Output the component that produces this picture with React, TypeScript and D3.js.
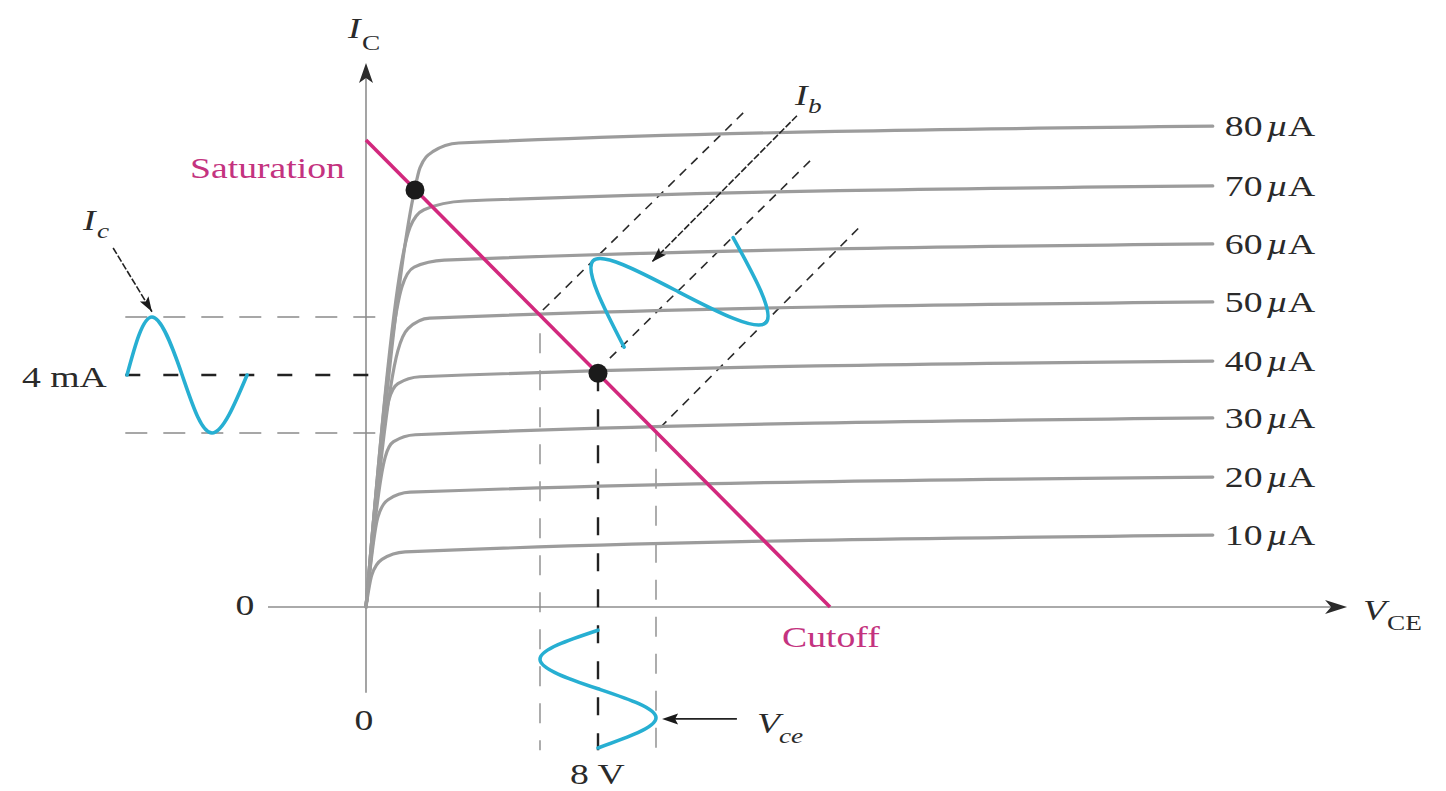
import React from "react";
import * as d3 from "d3";

const W = 1446;
const H = 791;

// Base-current levels (µA) of the characteristic curves
const ibLevels = [10, 20, 30, 40, 50, 60, 70, 80];

// Characteristic curves: [VCE (V), IC (mA)]
const curve10 = [[0, 0], [0.2, 0.55], [0.55, 0.82], [1.35, 0.95], [29.2, 1.24]];
const curve20 = [[0, 0], [0.41, 1.55], [0.76, 1.85], [1.52, 1.98], [29.2, 2.24]];
const curve30 = [[0, 0], [0.66, 2.58], [0.95, 2.85], [1.7, 2.97], [29.2, 3.26]];
const curve40 = [[0, 0], [0.79, 3.57], [1.1, 3.85], [1.86, 3.97], [29.2, 4.24]];
const curve50 = [[0, 0], [1.1, 4.42], [1.45, 4.8], [2.2, 4.98], [29.2, 5.26]];
const curve60 = [[0, 0], [1.24, 5.52], [1.66, 5.86], [2.7, 5.98], [29.2, 6.26]];
const curve70 = [[0, 0], [1.52, 6.55], [2.0, 6.85], [3.4, 7.0], [29.2, 7.26]];
const curve80 = [[0, 0], [1.66, 7.15], [1.86, 7.57], [2.3, 7.85], [3.2, 8.0], [29.2, 8.29]];
const curves = [curve10, curve20, curve30, curve40, curve50, curve60, curve70, curve80];

// Load line and operating points
const loadLine = [[0, 8.05], [16, 0]];
const qPoint = [8, 4.03];
const satPoint = [1.69, 7.19];

// Signal waveforms (key points)
const icWave = [[-8.24, 4], [-7.38, 5], [-6.34, 4], [-5.31, 3], [-4.1, 4]];
const vceWave = [[8, -0.4], [6, -0.9], [8, -1.41], [10, -1.91], [8, -2.43]];
const ibWave = [[8.9, 4.48], [7.83, 5.97], [10.79, 5.43], [13.79, 4.9], [12.66, 6.37]];

// Projection lines
const icLevels = [5, 4, 3]; // mA
const icLevelEnds = [0.5, 0.62, 0.5]; // V where the dashed lines stop
const vceLevels = [6, 8, 10]; // V
const vceLevelTops = [4.72, 4.03, 3.02]; // mA where the dashed lines start
const vceBottom = -2.47;
const icLeft = -8.3;
const ibLines = [
  [[6.1, 5.12], [13.17, 8.6]],
  [[8.41, 4.29], [15.41, 7.74]],
  [[10.14, 3.09], [17.1, 6.59]],
];

// Annotation arrows [tail, head]
const ibArrow = [[14.86, 8.47], [9.86, 5.95]];
const icArrow = [[-8.72, 6.19], [-7.38, 5.09]];
const vceArrow = [[12.79, -1.93], [10.21, -1.93]];

// Axis extents
const xAxisRange = [-3.38, 33.83];
const yAxisRange = [-1.48, 9.38];

const x = d3.scaleLinear().domain([0, 16]).range([366, 830]);
const y = d3.scaleLinear().domain([0, 8]).range([607, 143]);

const FONT = "'Liberation Serif', 'Times New Roman', serif";
const SX = 1.3;
const GRAY = "#9c9c9c";
const MAGENTA = "#d2287d";
const MAGENTA_TEXT = "#c4337f";
const CYAN = "#27afd2";

function arrowPath(x1: number, y1: number, x2: number, y2: number, len: number, half: number, notch: number) {
  const a = Math.atan2(y2 - y1, x2 - x1);
  const c = Math.cos(a);
  const s = Math.sin(a);
  const bx = x2 - len * c;
  const by = y2 - len * s;
  const p1 = [bx - half * s, by + half * c];
  const p2 = [bx + half * s, by - half * c];
  const n = [x2 - (len - notch) * c, y2 - (len - notch) * s];
  return `M${x2},${y2}L${p1[0]},${p1[1]}L${n[0]},${n[1]}L${p2[0]},${p2[1]}Z`;
}

function T(props: {
  x: number;
  y: number;
  size?: number;
  fill?: string;
  italic?: boolean;
  anchor?: string;
  children: React.ReactNode;
}) {
  const { x: tx, y: ty, size = 29, fill = "#2a2a2a", italic = false, anchor = "start", children } = props;
  return (
    <text
      transform={`translate(${tx},${ty}) scale(${SX},1)`}
      fontFamily={FONT}
      fontSize={size}
      fill={fill}
      fontStyle={italic ? "italic" : "normal"}
      textAnchor={anchor}
    >
      {children}
    </text>
  );
}

export default function App() {
  const line = d3
    .line<number[]>()
    .x((d) => x(d[0]))
    .y((d) => y(d[1]));
  const curveLine = d3
    .line<number[]>()
    .x((d) => x(d[0]))
    .y((d) => y(d[1]))
    .curve(d3.curveMonotoneX);
  const waveLine = d3
    .line<number[]>()
    .x((d) => x(d[0]))
    .y((d) => y(d[1]))
    .curve(d3.curveNatural);

  const x0 = x(0);
  const y0 = y(0);

  const annArrow = (a: number[][], key: string) => {
    const x1 = x(a[0][0]);
    const y1 = y(a[0][1]);
    const x2 = x(a[1][0]);
    const y2 = y(a[1][1]);
    return (
      <g key={key}>
        <line x1={x1} y1={y1} x2={x2} y2={y2} stroke="#222" strokeWidth={1.6} strokeDasharray="7,2" />
        <path d={arrowPath(x1, y1, x2, y2, 15, 5, 3)} fill="#1a1a1a" />
      </g>
    );
  };

  return (
    <div style={{ position: "absolute", left: 0, top: 0 }}>
      <svg width={W} height={H} viewBox={`0 0 ${W} ${H}`} style={{ display: "block", background: "#fff" }}>
        <rect width={W} height={H} fill="#fff" />

        {/* Axes */}
        <line x1={x(xAxisRange[0])} y1={y0} x2={x(xAxisRange[1]) - 10} y2={y0} stroke="#8e8e8e" strokeWidth={1.6} />
        <path d={arrowPath(x(xAxisRange[0]), y0, x(xAxisRange[1]), y0, 22, 7, 6)} fill="#2b2b2b" />
        <line x1={x0} y1={y(yAxisRange[0])} x2={x0} y2={y(yAxisRange[1]) + 10} stroke="#8e8e8e" strokeWidth={1.6} />
        <path d={arrowPath(x0, y(yAxisRange[0]), x0, y(yAxisRange[1]), 20, 7, 5)} fill="#2b2b2b" />

        {/* Horizontal projection lines */}
        {icLevels.map((lv, i) => (
          <line
            key={"h" + lv}
            x1={x(icLeft)}
            y1={y(lv)}
            x2={x(icLevelEnds[i])}
            y2={y(lv)}
            stroke={i === 1 ? "#222" : "#8a8a8a"}
            strokeWidth={i === 1 ? 2.4 : 1.4}
            strokeDasharray={i === 1 ? "15,23" : "22,16"}
          />
        ))}

        {/* Vertical projection lines */}
        {vceLevels.map((lv, i) => (
          <line
            key={"v" + lv}
            x1={x(lv)}
            y1={y(vceLevelTops[i])}
            x2={x(lv)}
            y2={y(vceBottom)}
            stroke={i === 1 ? "#222" : "#8a8a8a"}
            strokeWidth={i === 1 ? 2.4 : 1.4}
            strokeDasharray={i === 1 ? "18,18" : "20,17"}
          />
        ))}

        {/* Ib diagonal dashed lines */}
        {ibLines.map((l, i) => (
          <path key={"ib" + i} d={line(l) || ""} stroke="#2a2a2a" strokeWidth={1.6} strokeDasharray="9,7" fill="none" />
        ))}

        {/* Characteristic curves */}
        {curves.map((c, i) => (
          <path key={"c" + i} d={curveLine(c) || ""} stroke={GRAY} strokeWidth={3.2} fill="none" strokeLinecap="round" />
        ))}

        {/* Curve labels */}
        {curves.map((c, i) => {
          const last = c[c.length - 1];
          return (
            <T key={"lab" + i} x={x(last[0]) + 12} y={y(last[1]) + 10}>
              {ibLevels[i]}
              <tspan dx={3} fontStyle="italic">µ</tspan>A
            </T>
          );
        })}

        {/* Load line */}
        <path d={line(loadLine) || ""} stroke={MAGENTA} strokeWidth={3.6} fill="none" />

        {/* Waveforms */}
        <path d={waveLine(icWave) || ""} stroke={CYAN} strokeWidth={3.6} fill="none" strokeLinecap="round" />
        <path d={waveLine(vceWave) || ""} stroke={CYAN} strokeWidth={3.6} fill="none" strokeLinecap="round" />
        <path d={waveLine(ibWave) || ""} stroke={CYAN} strokeWidth={3.6} fill="none" strokeLinecap="round" />

        {/* Operating points */}
        <circle cx={x(qPoint[0])} cy={y(qPoint[1])} r={9.5} fill="#1b1b1b" />
        <circle cx={x(satPoint[0])} cy={y(satPoint[1])} r={9.5} fill="#1b1b1b" />

        {/* Annotation arrows */}
        {annArrow(ibArrow, "a1")}
        {annArrow(icArrow, "a2")}
        {(() => {
          const x1 = x(vceArrow[0][0]);
          const y1 = y(vceArrow[0][1]);
          const x2 = x(vceArrow[1][0]);
          const y2 = y(vceArrow[1][1]);
          return (
            <g>
              <line x1={x1} y1={y1} x2={x2 + 8} y2={y2} stroke="#222" strokeWidth={1.8} />
              <path d={arrowPath(x1, y1, x2, y2, 16, 5.5, 3)} fill="#1a1a1a" />
            </g>
          );
        })()}

        {/* Texts */}
        <T x={348} y={38} italic>I</T>
        <T x={362} y={50} size={21}>C</T>

        <T x={190} y={178} fill={MAGENTA_TEXT}>Saturation</T>
        <T x={782} y={647} fill={MAGENTA_TEXT}>Cutoff</T>

        <T x={83} y={230} italic>I</T>
        <T x={97} y={238} size={21} italic>c</T>

        <T x={22} y={387}>4 mA</T>

        <T x={245} y={615} anchor="middle">0</T>
        <T x={364} y={730} anchor="middle">0</T>

        <T x={570} y={784}>8 V</T>

        <T x={757} y={733} italic>V</T>
        <T x={779} y={743} size={21} italic>ce</T>

        <T x={1363} y={620} italic>V</T>
        <T x={1387} y={630} size={21}>CE</T>

        <T x={795} y={105} italic>I</T>
        <T x={808} y={113} size={21} italic>b</T>
      </svg>
    </div>
  );
}
